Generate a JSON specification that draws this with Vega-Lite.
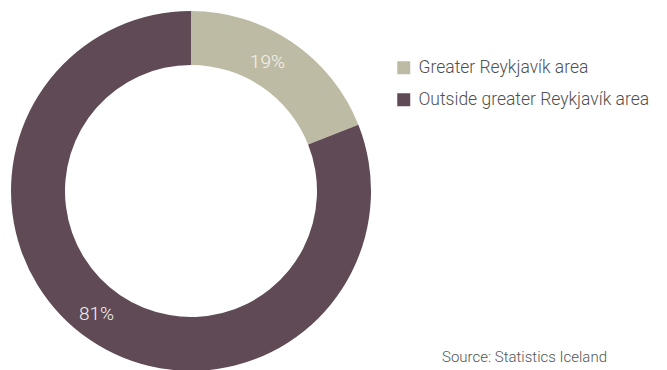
{
  "$schema": "https://vega.github.io/schema/vega-lite/v6.json",
  "width": 382,
  "height": 382,
  "autosize": {"type": "none"},
  "padding": {"left": 0, "top": 0, "right": 285, "bottom": 0},
  "background": "white",
  "config": {"view": {"stroke": null}, "font": "Roboto"},
  "data": {
    "values": [
      {"region": "Greater Reykjavík area", "share": 19, "label": "19%", "order": 1},
      {"region": "Outside greater Reykjavík area", "share": 81, "label": "81%", "order": 2}
    ]
  },
  "encoding": {
    "theta": {"field": "share", "type": "quantitative", "stack": true},
    "order": {"field": "order", "type": "quantitative"}
  },
  "layer": [
    {
      "mark": {"type": "arc", "outerRadius": 180, "innerRadius": 126},
      "encoding": {
        "color": {
          "field": "region",
          "type": "nominal",
          "scale": {
            "domain": ["Greater Reykjavík area", "Outside greater Reykjavík area"],
            "range": ["#bebba5", "#5f4a55"]
          },
          "legend": {
            "title": null,
            "orient": "none",
            "legendX": 395,
            "legendY": 59,
            "padding": 0,
            "symbolType": "square",
            "symbolSize": 169,
            "symbolStrokeWidth": 0,
            "labelFontSize": 17.5,
            "labelFontWeight": 300,
            "labelColor": "#505050",
            "labelOffset": 6,
            "rowPadding": 13,
            "labelLimit": 400
          }
        }
      }
    },
    {
      "mark": {"type": "text", "radius": 152, "fontSize": 19, "fontWeight": 300, "fill": "#f4f2ec", "dx": -9, "dy": -3},
      "encoding": {"text": {"field": "label", "type": "nominal"}}
    }
  ],
  "title": {
    "text": "Source: Statistics Iceland",
    "orient": "bottom",
    "anchor": "end",
    "frame": "group",
    "dx": 225,
    "dy": -36,
    "fontSize": 15,
    "fontWeight": 300,
    "color": "#555555"
  }
}
